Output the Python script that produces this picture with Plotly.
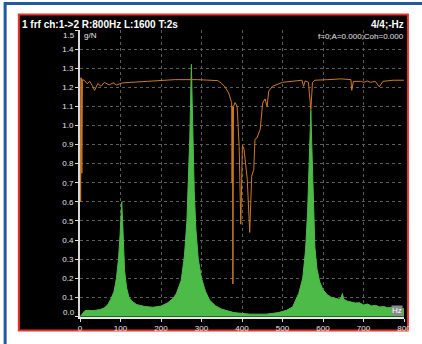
import plotly.graph_objects as go

# ---- data ----
frf_freq = [0, 3, 8, 12, 20, 30, 40, 50, 60, 68, 76, 84, 90, 95, 99, 101, 103, 105, 107, 110,
            115, 121, 128, 140, 160, 180, 200, 217, 230, 238, 250, 258, 264, 268, 271, 273, 275,
            277, 279, 282, 286, 292, 300, 310, 320, 335, 350, 380, 420, 460, 490, 510, 525, 540,
            550, 557, 562, 566, 568, 570, 572, 574, 577, 580, 585, 592, 600, 610, 620, 630, 640,
            645, 648, 651, 660, 670, 680, 690, 700, 710, 720, 730, 740, 750, 760, 770, 780, 790, 800]
frf_mag = [0.0, 0.005, 0.02, 0.03, 0.032, 0.03, 0.033, 0.036, 0.045, 0.06, 0.09, 0.13, 0.20, 0.30,
           0.43, 0.53, 0.60, 0.51, 0.39, 0.24, 0.15, 0.10, 0.08, 0.062, 0.052, 0.048, 0.054, 0.072,
           0.095, 0.12, 0.19, 0.32, 0.50, 0.70, 0.93, 1.12, 1.32, 1.12, 0.90, 0.66, 0.46, 0.30, 0.20,
           0.13, 0.085, 0.055, 0.038, 0.02, 0.012, 0.012, 0.02, 0.032, 0.05, 0.12, 0.20, 0.35, 0.55,
           0.78, 0.93, 1.08, 0.92, 0.75, 0.52, 0.36, 0.25, 0.18, 0.14, 0.115, 0.10, 0.095, 0.09,
           0.10, 0.12, 0.09, 0.08, 0.075, 0.07, 0.072, 0.06, 0.065, 0.055, 0.058, 0.05, 0.052,
           0.045, 0.048, 0.042, 0.045, 0.04]

coh_freq = [0, 1.5, 3, 4.5, 6, 10, 18, 24, 30, 36, 44, 52, 60, 72, 82, 90, 105, 153, 234, 290,
            314, 340, 350, 358, 367, 374.5, 375.5, 376.5, 377.5, 379, 383, 388, 393, 397, 401, 405,
            413, 419, 424, 429, 432, 437, 445, 451, 457, 462, 466, 475, 500, 532, 548, 552, 556,
            564, 570, 574, 580, 612, 645, 669, 671, 675, 693, 701, 709, 717, 729, 739, 748, 773, 800]
coh_val = [1.25, 0.60, 1.25, 0.75, 1.24, 1.237, 1.219, 1.231, 1.21, 1.184, 1.22, 1.205, 1.226,
           1.212, 1.223, 1.212, 1.223, 1.23, 1.24, 1.24, 1.238, 1.235, 1.22, 1.202, 1.17, 1.12,
           0.70, 1.10, 0.17, 1.10, 1.12, 1.10, 0.89, 0.483, 0.895, 0.875, 0.718, 0.44, 0.735, 0.77,
           0.927, 0.935, 0.98, 1.118, 1.139, 1.10, 1.18, 1.205, 1.226, 1.231, 1.237, 1.205, 1.233,
           1.226, 1.083, 1.226, 1.237, 1.24, 1.244, 1.24, 1.184, 1.231, 1.231, 1.226, 1.233, 1.226,
           1.231, 1.202, 1.231, 1.237, 1.237]

x_ticks = [0, 100, 200, 300, 400, 500, 600, 700, 800]
x_tick_labels = ["0", "100", "200", "300", "400", "500", "600", "700", "800"]
y_ticks = [0.0, 0.1, 0.2, 0.3, 0.4, 0.5, 0.6, 0.7, 0.8, 0.9, 1.0, 1.1, 1.2, 1.3, 1.4, 1.5]
y_tick_labels = ["", "0.1", "0.2", "0.3", "0.4", "0.5", "0.6", "0.7", "0.8", "0.9", "1.0",
                 "1.1", "1.2", "1.3", "1.4", ""]

title_left = "1 frf ch:1->2 R:800Hz L:1600 T:2s"
title_right = "4/4;-Hz"
cursor_text = "f=0;A=0.000;Coh=0.000"
y_unit = "g/N"
x_unit = "Hz"

# ---- figure ----
W, H = 422, 344
ML, MR, MT, MB = 80, 11, 30, 26
PW, PH = W - ML - MR, H - MT - MB


def px(xp):
    return (xp - ML) / PW


def py(yp):
    return (H - MB - yp) / PH


FONT = "Liberation Sans, Arial, sans-serif"
TICK = "#e6e6e6"

fig = go.Figure()
fig.add_trace(go.Scatter(
    x=frf_freq, y=frf_mag, mode="lines", fill="tozeroy",
    line=dict(color="#4dbb48", width=1), fillcolor="#4dbb48",
    hoverinfo="skip", showlegend=False))
fig.add_trace(go.Scatter(
    x=coh_freq, y=coh_val, mode="lines",
    line=dict(color="#d27a22", width=1),
    hoverinfo="skip", showlegend=False))

grid = dict(showgrid=True, gridcolor="#5c5c5c", gridwidth=1, griddash="3px,3px")

fig.update_xaxes(
    range=[0, 800], tickvals=x_ticks, ticktext=x_tick_labels,
    ticks="outside", ticklen=3, tickcolor="#e0e0e0",
    showline=True, linecolor="#e8e8e8", linewidth=1.5, zeroline=False,
    tickfont=dict(family=FONT, size=8, color=TICK), **grid)
fig.update_yaxes(
    range=[-0.003, 1.5], tickvals=y_ticks, ticktext=y_tick_labels,
    ticks="outside", ticklen=3, tickcolor="#e0e0e0",
    showline=True, linecolor="#d8d8d8", linewidth=2, zeroline=False,
    tickfont=dict(family=FONT, size=8, color=TICK), **grid)

shapes = [
    # outer blue frame
    dict(type="rect", xref="paper", yref="paper", layer="below",
         x0=px(3.5), x1=px(460), y0=py(380), y1=py(3.3),
         line=dict(color="#1f5aa2", width=3), fillcolor="rgba(0,0,0,0)"),
    # black panel with red border
    dict(type="rect", xref="paper", yref="paper", layer="below",
         x0=px(17.5), x1=px(415), y0=py(331.5), y1=py(14.5),
         line=dict(color="#e8332b", width=2), fillcolor="#000000"),
]

ann = [
    dict(text="<b>" + title_left + "</b>", x=px(19), y=py(24), xanchor="left", yanchor="middle",
         font=dict(family=FONT, size=10, color="white")),
    dict(text="<b>" + title_right + "</b>", x=px(413), y=py(24), xanchor="right", yanchor="middle",
         font=dict(family=FONT, size=10, color="white")),
    dict(text=cursor_text, x=px(413), y=py(37), xanchor="right", yanchor="middle",
         font=dict(family=FONT, size=8, color=TICK)),
    dict(text=y_unit, x=px(82), y=py(36), xanchor="left", yanchor="middle",
         font=dict(family=FONT, size=8, color=TICK)),
    dict(text="1.5", x=px(77), y=py(36), xanchor="right", yanchor="middle",
         font=dict(family=FONT, size=8, color=TICK)),
    dict(text="0.0", x=px(77), y=py(313), xanchor="right", yanchor="middle",
         font=dict(family=FONT, size=8, color=TICK)),
    dict(text=x_unit, x=px(410), y=py(317), xanchor="right", yanchor="bottom",
         bgcolor="#8a8a8a", borderpad=0,
         font=dict(family=FONT, size=8, color="white")),
]
for a in ann:
    a.update(xref="paper", yref="paper", showarrow=False)

fig.update_layout(
    width=W, height=H, autosize=False,
    margin=dict(l=ML, r=MR, t=MT, b=MB, pad=0),
    paper_bgcolor="white", plot_bgcolor="black",
    shapes=shapes, annotations=ann, showlegend=False,
    font=dict(family=FONT))

fig.write_html(
    "out.html",
    config={"displayModeBar": False},
    post_script="document.body.style.margin='0px';document.body.style.overflow='hidden';")
